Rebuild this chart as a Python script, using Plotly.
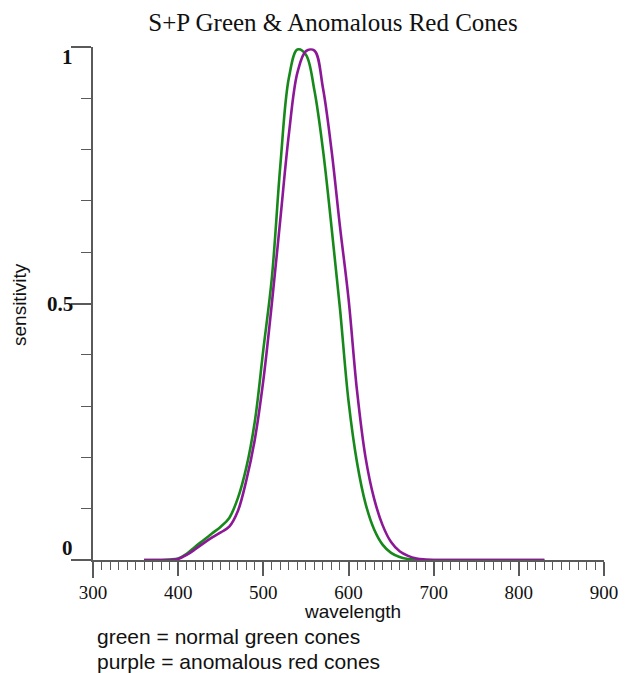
import plotly.graph_objects as go

# Data
green_wl = [360, 370, 380, 390, 400, 410, 420, 430, 440, 450, 460, 470, 480, 490,
            500, 510, 520, 530, 540, 550, 560, 570, 580, 590, 600, 610, 620,
            630, 640, 650, 660, 670, 680, 690, 700, 720, 750, 800, 830]
green_sens = [0, 0, 0, 0.001, 0.003, 0.012, 0.026, 0.039, 0.052, 0.065, 0.082, 0.12, 0.18, 0.27,
              0.41, 0.55, 0.77, 0.94, 0.995, 0.985, 0.915, 0.80, 0.65, 0.49, 0.31, 0.19, 0.11,
              0.06, 0.03, 0.014, 0.006, 0.002, 0.001, 0, 0, 0, 0, 0, 0]

purple_wl = [360, 370, 380, 390, 400, 410, 420, 430, 440, 450, 460, 470, 480, 490,
             500, 510, 520, 530, 540, 550, 560, 570, 580, 590, 600, 610, 620,
             630, 640, 650, 660, 670, 680, 690, 700, 720, 750, 800, 830]
purple_sens = [0, 0, 0, 0, 0.002, 0.01, 0.021, 0.033, 0.044, 0.054, 0.065, 0.095, 0.155, 0.235,
               0.35, 0.50, 0.665, 0.83, 0.95, 0.992, 0.993, 0.92, 0.80, 0.65, 0.51, 0.33, 0.20,
               0.12, 0.068, 0.035, 0.017, 0.008, 0.003, 0.001, 0, 0, 0, 0, 0]

x_ticks = [300, 400, 500, 600, 700, 800, 900]
y_ticks = [0, 0.5, 1]
y_tick_text = ["0", "0.5", "1"]

title_text = "S+P Green & Anomalous Red Cones"
x_title = "wavelength"
y_title = "sensitivity"
note_lines = ["green = normal green cones", "purple = anomalous red cones"]

GREEN = "#17891a"
PURPLE = "#8c1797"
AXIS = "#5a5a5a"

fig = go.Figure()
fig.add_trace(go.Scatter(x=green_wl, y=green_sens, mode="lines",
                         line=dict(color=GREEN, width=2.6, shape="spline", smoothing=1.0),
                         showlegend=False, hoverinfo="skip", cliponaxis=False))
fig.add_trace(go.Scatter(x=purple_wl, y=purple_sens, mode="lines",
                         line=dict(color=PURPLE, width=2.6, shape="spline", smoothing=1.0),
                         showlegend=False, hoverinfo="skip", cliponaxis=False))

W, H = 631, 673
L, R, T, B = 93, 27, 47, 113
plot_w = W - L - R
plot_h = H - T - B

fig.update_layout(
    width=W, height=H,
    margin=dict(l=L, r=R, t=T, b=B),
    paper_bgcolor="white", plot_bgcolor="white",
    title=dict(text=title_text, xref="container", yref="container",
               x=333 / W, y=1 - 22 / H, xanchor="center", yanchor="middle",
               font=dict(family="Liberation Serif", size=25, color="#111")),
    xaxis=dict(range=[300, 900], showgrid=False, zeroline=False,
               showline=True, linecolor=AXIS, linewidth=2,
               ticks="outside", tickvals=x_ticks, ticklen=14, tickwidth=1.5, tickcolor=AXIS,
               minor=dict(dtick=10, ticks="outside", ticklen=8, tickwidth=1.2, tickcolor=AXIS,
                          showgrid=False),
               tickfont=dict(family="Liberation Serif", size=19, color="#111")),
    yaxis=dict(range=[0, 1], showgrid=False, zeroline=False,
               showline=True, linecolor=AXIS, linewidth=2,
               ticks="outside", tickvals=y_ticks, ticklen=20, tickwidth=1.5, tickcolor=AXIS,
               minor=dict(dtick=0.1, ticks="outside", ticklen=10, tickwidth=1.2, tickcolor=AXIS,
                          showgrid=False),
               showticklabels=False),
)

# axis line extensions (cross at origin)
fig.add_shape(type="line", xref="x domain", yref="y domain",
              x0=-20 / plot_w, x1=0, y0=0, y1=0,
              line=dict(color=AXIS, width=2), layer="below")
fig.add_shape(type="line", xref="x domain", yref="y domain",
              x0=0, x1=0, y0=-18 / plot_h, y1=0,
              line=dict(color=AXIS, width=2), layer="below")

# y tick labels
shifts = {0: 12, 0.5: 0, 1: -10}
for v, t in zip(y_ticks, y_tick_text):
    fig.add_annotation(x=0, xref="x domain", y=v, yref="y", text="<b>" + t + "</b>",
                       showarrow=False, xanchor="right", yanchor="middle",
                       xshift=-18, yshift=shifts[v],
                       font=dict(family="Liberation Serif", size=21, color="#111"))

# axis titles
fig.add_annotation(x=(19 - L) / plot_w, xref="paper", y=(560 - 305) / plot_h, yref="paper",
                   text=y_title, showarrow=False, textangle=-90,
                   xanchor="center", yanchor="middle",
                   font=dict(family="Liberation Sans", size=19, color="#111"))

fig.add_annotation(x=(352 - L) / plot_w, xref="paper", y=(560 - 611) / plot_h, yref="paper",
                   text=x_title, showarrow=False, xanchor="center", yanchor="middle",
                   font=dict(family="Liberation Sans", size=19, color="#111"))

for i, line in enumerate(note_lines):
    ypix = 636 + 26 * i
    fig.add_annotation(x=(95 - L) / plot_w, xref="paper", y=(560 - ypix) / plot_h, yref="paper",
                       text=line, showarrow=False, xanchor="left", yanchor="middle",
                       font=dict(family="Liberation Sans", size=21, color="#111"))

fig.write_html("out.html", config={"displayModeBar": False},
               post_script="document.body.style.margin='0';document.body.style.overflow='hidden';")
